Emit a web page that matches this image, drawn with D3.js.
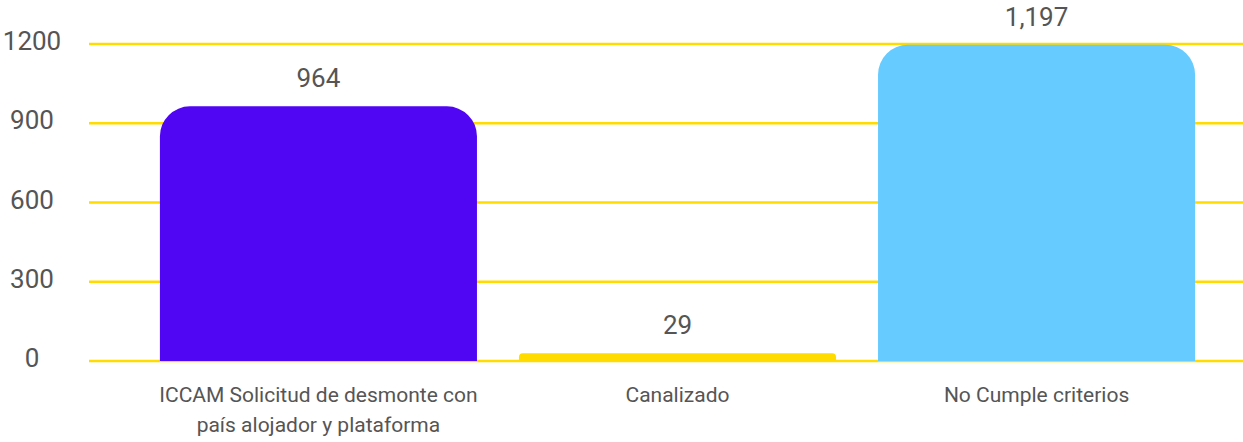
<!DOCTYPE html>
<html>
<head>
<meta charset="utf-8">
<script src="https://cdn.jsdelivr.net/npm/d3@7"></script>
<style>
  html, body { margin: 0; padding: 0; background: #fff; }
  svg { display: block; font-family: Roboto, "Noto Sans", sans-serif; }
</style>
</head>
<body>
<svg id="chart" width="1243" height="442"></svg>
<script>
const categories = [
  ["ICCAM Solicitud de desmonte con", "país alojador y plataforma"],
  ["Canalizado"],
  ["No Cumple criterios"]
];
const values = [964, 29, 1197];
const colors = ["#5106F3", "#FFDB00", "#66CBFF"];
const yTicks = [0, 300, 600, 900, 1200];

const svg = d3.select("#chart");
const gridLeft = 89, gridRight = 1243;

const x = d3.scaleBand()
  .domain(d3.range(values.length))
  .range([124, 1231])
  .paddingInner(0.117)
  .paddingOuter(0.1);

const y = d3.scaleLinear().domain([0, 1200]).range([361, 44]);

// gridlines
svg.append("g").selectAll("line").data(yTicks).join("line")
  .attr("x1", gridLeft).attr("x2", gridRight)
  .attr("y1", d => y(d)).attr("y2", d => y(d))
  .attr("stroke", "#FFDB00").attr("stroke-width", 2.5);

// y tick labels
svg.append("g").selectAll("text").data(yTicks).join("text")
  .attr("x", 32).attr("y", d => y(d) + 6)
  .attr("text-anchor", "middle")
  .attr("font-size", 26).attr("font-weight", 400)
  .attr("fill", "#555")
  .text(d => d);

// bars with rounded top corners
function barPath(x0, w, yTop, yBase, rMax) {
  const h = yBase - yTop;
  const r = Math.min(rMax, h / 2, w / 2);
  return `M${x0},${yBase}V${yTop + r}A${r},${r} 0 0 1 ${x0 + r},${yTop}` +
         `H${x0 + w - r}A${r},${r} 0 0 1 ${x0 + w},${yTop + r}V${yBase}Z`;
}

svg.append("g").selectAll("path").data(values).join("path")
  .attr("d", (d, i) => barPath(x(i), x.bandwidth(), y(d), y(0), 30))
  .attr("fill", (d, i) => colors[i]);

// value labels
const fmt = d3.format(",");
svg.append("g").selectAll("text").data(values).join("text")
  .attr("x", (d, i) => x(i) + x.bandwidth() / 2)
  .attr("y", d => y(d) - 19)
  .attr("text-anchor", "middle")
  .attr("font-size", 26).attr("font-weight", 400)
  .attr("fill", "#555")
  .text(d => fmt(d));

// category labels
const catG = svg.append("g");
categories.forEach((lines, i) => {
  const t = catG.append("text")
    .attr("x", x(i) + x.bandwidth() / 2)
    .attr("y", 402)
    .attr("text-anchor", "middle")
    .attr("font-size", 21)
    .attr("fill", "#555");
  lines.forEach((ln, j) => {
    t.append("tspan")
      .attr("x", x(i) + x.bandwidth() / 2)
      .attr("dy", j === 0 ? 0 : 30)
      .text(ln);
  });
});
</script>
</body>
</html>
